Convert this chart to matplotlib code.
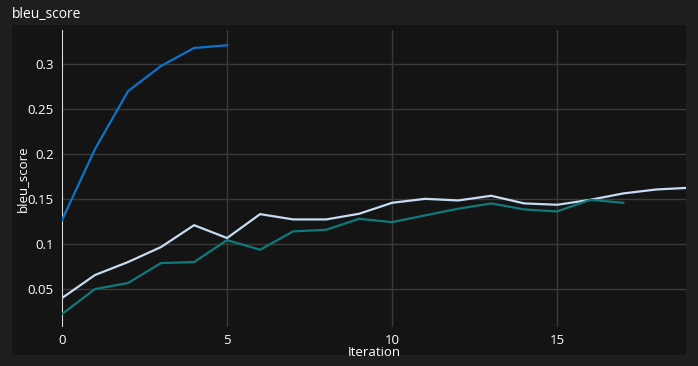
import matplotlib
matplotlib.use("Agg")
import matplotlib.pyplot as plt

W, H = 698, 366

iters_a = [0, 1, 2, 3, 4, 5]
bleu_a = [0.1267, 0.2056, 0.270, 0.298, 0.318, 0.321]

iters_b = list(range(20))
bleu_b = [0.040, 0.0656, 0.080, 0.0967, 0.121, 0.1067, 0.1333, 0.1274, 0.1274, 0.1337,
          0.1459, 0.1503, 0.1485, 0.1537, 0.1452, 0.1437, 0.1492, 0.1563, 0.1607, 0.1626]

iters_c = list(range(18))
bleu_c = [0.0222, 0.050, 0.0567, 0.0789, 0.080, 0.1044, 0.0937, 0.1141, 0.1159, 0.1281,
          0.1244, 0.1319, 0.1393, 0.1452, 0.1385, 0.1363, 0.1492, 0.1459]

x_ticks = [0, 5, 10, 15]
y_ticks = [0.05, 0.1, 0.15, 0.2, 0.25, 0.3]
y_tick_labels = ["0.05", "0.1", "0.15", "0.2", "0.25", "0.3"]

plt.rcParams["font.family"] = ["Open Sans", "DejaVu Sans"]

fig = plt.figure(figsize=(W / 100, H / 100), dpi=100, facecolor="#1e1e1e")

# dark panel behind the plot
bg = fig.add_axes([12 / W, 1 - 355 / H, (686 - 12) / W, (355 - 25) / H], zorder=-1)
bg.set_facecolor("#141414")
bg.set_xticks([])
bg.set_yticks([])
for s in bg.spines.values():
    s.set_visible(False)

left, right, top, bottom = 62, 686, 30, 327
ax = fig.add_axes([left / W, 1 - bottom / H, (right - left) / W, (bottom - top) / H])
ax.set_facecolor("none")

ax.plot(iters_a, bleu_a, color="#0b73cc", lw=1.6, zorder=3)
ax.plot(iters_b, bleu_b, color="#c6dcf2", lw=1.6, zorder=3)
ax.plot(iters_c, bleu_c, color="#0e7a7c", lw=1.6, zorder=3)

ax.set_xlim(0, 18.9)
ax.set_ylim(0.0078, 0.338)
ax.set_xticks(x_ticks)
ax.set_xticklabels([str(t) for t in x_ticks])
ax.set_yticks(y_ticks)
ax.set_yticklabels(y_tick_labels)
ax.grid(True, color="#3a3a3a", lw=1)
ax.set_axisbelow(True)
ax.axvline(0, color="white", lw=1.2, zorder=2)

for s in ax.spines.values():
    s.set_visible(False)
ax.tick_params(length=0, colors="white", labelsize=9.5)
ax.tick_params(axis="x", pad=5)
ax.tick_params(axis="y", pad=6)

ax.set_xlabel("Iteration", color="white", fontsize=9.5, labelpad=-1)
ax.set_ylabel("bleu_score", color="white", fontsize=9.5, labelpad=-1)

fig.text(12 / W, 1 - 15 / H, "bleu_score", color="white", fontsize=10,
         ha="left", va="center")

fig.savefig("out.png", dpi=100, facecolor=fig.get_facecolor())
